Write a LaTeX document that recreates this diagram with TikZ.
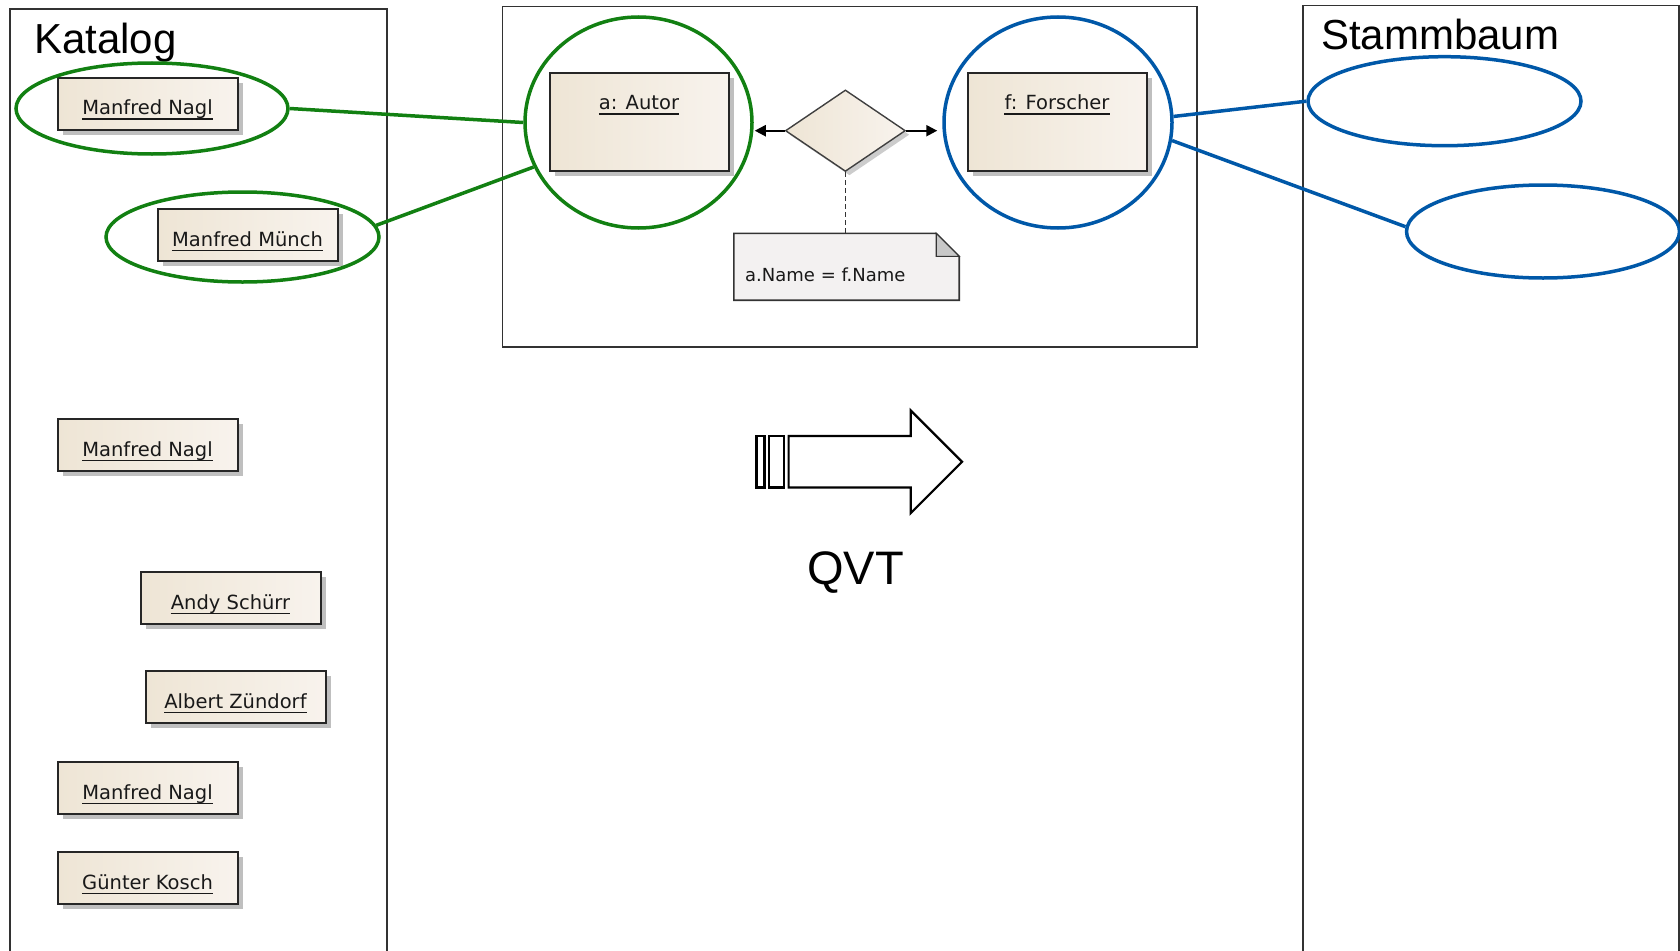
\documentclass[tikz,border=0pt]{standalone}
\usepackage{fontspec}
\setmainfont{Liberation Sans}
\newfontfamily\umlfont{DejaVu Sans}
\usetikzlibrary{shapes.geometric,shadows,arrows.meta}
\definecolor{boxL}{RGB}{238,229,213}
\definecolor{boxR}{RGB}{248,243,237}
\definecolor{selgreen}{RGB}{18,128,18}
\definecolor{selblue}{RGB}{0,88,168}
\definecolor{frame}{RGB}{50,50,50}
\definecolor{notefill}{RGB}{243,241,241}
\definecolor{foldfill}{RGB}{200,200,200}
\tikzset{
  objbox/.style={draw=black!85, line width=2pt, inner sep=0pt,
    left color=boxL, right color=boxR,
    drop shadow={shadow xshift=5pt, shadow yshift=-5pt, fill=black, opacity=0.25}},
  objtext/.style={font=\umlfont\fontsize{19.5}{22}\selectfont, inner sep=0pt, text=black!90},
  uline/.style={line width=1.8pt, black!90},
  panel/.style={draw=frame, line width=1.6pt},
  title/.style={font=\fontsize{42}{50}\selectfont, inner sep=0pt, anchor=base west},
  selg/.style={draw=selgreen, line width=3.5pt, ellipse, inner sep=0pt},
  selb/.style={draw=selblue, line width=3.5pt, ellipse, inner sep=0pt},
  gline/.style={draw=selgreen, line width=3.5pt},
  bline/.style={draw=selblue, line width=3.5pt},
  link/.style={line width=2.2pt, -{Triangle[length=11pt,width=11pt]}},
  bigarrow/.style={draw=black, line width=2.2pt, fill=white, line join=miter},
}
\newcommand{\umlobj}[6]{%
  \node[objbox, minimum width=#4, minimum height=#5] (#1) at (#2,#3) {};
  \node[objtext, anchor=base] (#1-t) at ([yshift=-38pt]#1.north) {#6};
  \draw[uline] ([yshift=-4.5pt]#1-t.base west) -- ([yshift=-4.5pt]#1-t.base east);
}
\begin{document}
\begin{tikzpicture}[x=1pt,y=-1pt]
\useasboundingbox[fill=white] (0,0) rectangle (1680,950);
% panels
\draw[panel] (10,965) -- (10,9) -- (387,9) -- (387,965);
\draw[panel] (502.5,6.5) rectangle (1197,347);
\draw[panel] (1303,965) -- (1303,5.5) -- (1679,5.5) -- (1679,965);
\node[title] (katalog) at (34,54) {Katalog};
\node[title] (stammbaum) at (1321,49.5) {Stammbaum};
% Katalog objects
\umlobj{mn1}{147.5}{103.5}{180}{52}{Manfred Nagl}
\umlobj{mm}{247.5}{235}{180}{52}{Manfred Münch}
\umlobj{mn2}{147.5}{445}{180}{52}{Manfred Nagl}
\umlobj{as}{230.5}{598}{180}{52}{Andy Schürr}
\umlobj{az}{235.5}{697}{180}{52}{Albert Zündorf}
\umlobj{mn3}{147.5}{788}{180}{52}{Manfred Nagl}
\umlobj{gk}{147.5}{878}{180}{52}{Günter Kosch}
% rule
\umlobj{autor}{639}{122}{179}{98.5}{a: Autor}
\umlobj{forscher}{1057}{122}{179}{98.5}{f: Forscher}
\node[diamond, draw=black!75, line width=1.4pt, inner sep=0pt,
  minimum width=120, minimum height=81.5, left color=boxL, right color=boxR,
  drop shadow={shadow xshift=4pt, shadow yshift=-4pt, fill=black, opacity=0.2}] (d) at (845.4,130.7) {};
\node[minimum width=225, minimum height=66.5, inner sep=0pt] (note) at (846.5,266.8) {};
\draw[draw=black!80, line width=1.6pt, fill=notefill]
  (note.south west) -- (note.north west) -- ([xshift=-23pt]note.north east)
  -- ([yshift=-23pt]note.north east) -- (note.south east) -- cycle;
\draw[draw=black!80, line width=1.2pt, fill=foldfill]
  ([xshift=-23pt]note.north east) -- ([xshift=-23pt,yshift=-23pt]note.north east)
  -- ([yshift=-23pt]note.north east) -- cycle;
\node[font=\umlfont\fontsize{18}{21}\selectfont, inner sep=0pt, anchor=base west, text=black!90] (cond) at (745,281) {a.Name = f.Name};
\draw[line width=1.8pt, dash pattern=on 5pt off 3pt, black!80] (d.south) -- (note.north -| d.south);
% selection ellipses
\node[selg, minimum width=272, minimum height=91] (e1) at (152,108.5) {};
\node[selg, minimum width=273, minimum height=90] (e2) at (242.5,237) {};
\node[selg, minimum width=227, minimum height=211] (gc) at (638.5,122.5) {};
\node[selb, minimum width=228, minimum height=211] (bc) at (1058,122.5) {};
\node[selb, minimum width=273, minimum height=89] (be1) at (1444.5,101.2) {};
\node[selb, minimum width=273, minimum height=93] (be2) at (1543,231.5) {};
\draw[link, shorten >=1pt] (d.west) -- (d.west -| gc.east);
\draw[link, shorten >=5pt] (d.east) -- (d.east -| bc.west);
\draw[gline] (e1.east) -- (gc.west);
\draw[gline] (e2.5) -- (gc.203);
\draw[bline] (bc.3) -- (be1.west);
\draw[bline] (bc.-9) -- (be2.178);
% QVT arrow
\draw[bigarrow] (756.4,436) rectangle (764.5,487.5);
\draw[bigarrow] (769.3,436) rectangle (783.8,487.5);
\draw[bigarrow] (788.6,436) -- (910.7,436) -- (910.7,410.4) -- (962,461.8)
  -- (910.7,513.2) -- (910.7,487.5) -- (788.6,487.5) -- cycle;
\node[font=\fontsize{47}{56}\selectfont, inner sep=0pt, anchor=base] (qvt) at (855.5,584) {QVT};
\end{tikzpicture}
\end{document}
